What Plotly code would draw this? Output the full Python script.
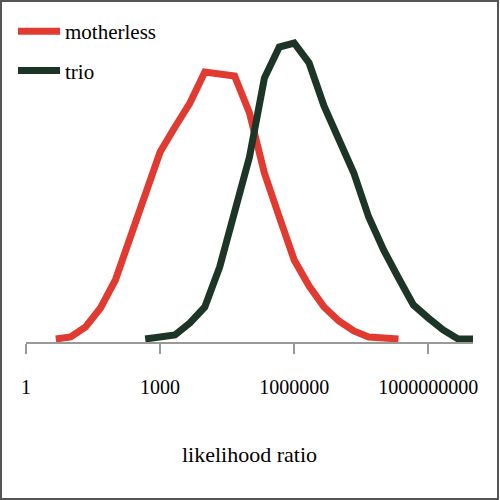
import plotly.graph_objects as go

# likelihood ratio grid: one point every third of a decade
motherless_k = list(range(2, 26))
trio_k = list(range(8, 31))
motherless_lr = [10 ** (k / 3) for k in motherless_k]
trio_lr = [10 ** (k / 3) for k in trio_k]

# relative frequency
motherless_freq = [3, 5, 15, 34, 62, 106, 149, 190, 215, 239, 270, 268, 266,
                   229, 169, 125, 82, 56, 35, 21, 11, 5, 4, 3]
trio_freq = [3, 5, 7, 19, 35, 75, 129, 185, 264, 295, 299, 279, 236, 202,
             169, 125, 92, 64, 37, 24, 12, 3, 3]

fig = go.Figure()

fig.add_trace(go.Scatter(x=motherless_lr, y=motherless_freq, mode="lines",
                         name="motherless", legendgroup="a",
                         line=dict(color="#e03a31", width=7)))
fig.add_trace(go.Scatter(x=trio_lr, y=trio_freq, mode="lines",
                         name="trio", legendgroup="b",
                         line=dict(color="#1d3527", width=7)))

serif = "Liberation Serif, Times New Roman, serif"

fig.update_layout(
    width=500, height=500,
    margin=dict(l=26, r=27, t=10, b=158, autoexpand=False),
    paper_bgcolor="white", plot_bgcolor="white",
    font=dict(family=serif, color="black", size=20),
    showlegend=True,
    legend=dict(x=0.026, y=0.978, xref="container", yref="container",
                xanchor="left", yanchor="top", itemwidth=42,
                font=dict(family=serif, size=21),
                tracegroupgap=9, bgcolor="rgba(0,0,0,0)"),
    xaxis=dict(type="log", range=[0, 10],
               tickvals=[1, 1000, 1000000, 1000000000],
               ticktext=["1", "1000", "1000000", "1000000000"],
               showgrid=False, zeroline=False,
               showline=True, linecolor="#999999", linewidth=1.5,
               ticks="outside", ticklen=10, tickcolor="#999999", tickwidth=1.5,
               ticklabelstandoff=16,
               title=dict(text="likelihood ratio", font=dict(size=22), standoff=50)),
    yaxis=dict(range=[0, 332], showgrid=False, zeroline=False,
               showline=False, showticklabels=False, ticks=""),
)

# thin frame round the whole picture
fig.add_shape(type="rect", xref="paper", yref="paper",
              x0=-25 / 447, x1=472 / 447, y0=-157 / 332, y1=341 / 332,
              line=dict(color="#555555", width=2))

# drop the browser's default body margin so the chart sits at the page corner
fig.write_html("out.html", config={"displayModeBar": False},
               post_script="document.body.style.margin = '0';")
